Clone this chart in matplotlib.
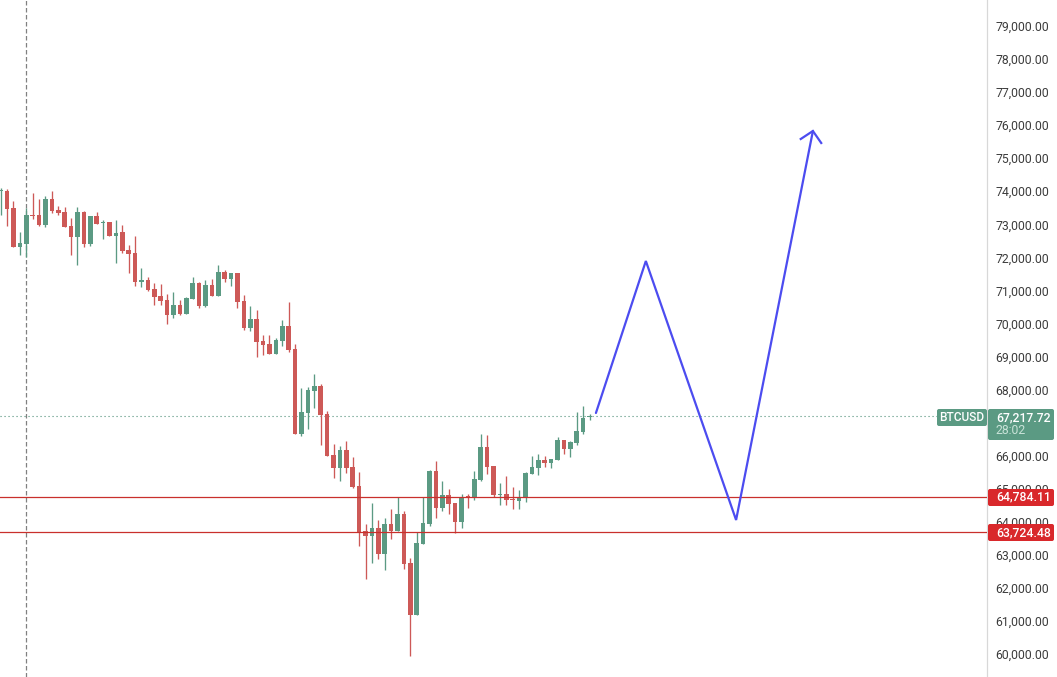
import matplotlib
matplotlib.use("Agg")
import matplotlib.pyplot as plt
from matplotlib.patches import FancyBboxPatch
from matplotlib.transforms import IdentityTransform, Affine2D

W, H = 1057, 677

opens = [74037,74037,73523,72343,72434,73311,73311,73009,73795,73462,73402,72978,72646,73402,72434,73281,73069,73099,72676,72797,
72252,72161,71284,71344,71072,70860,70739,70285,70588,70316,70769,71253,70557,71193,70860,71586,71374,71556,70709,69892,
70164,69498,69408,69105,69498,69952,69256,66684,67320,67985,68137,67289,66049,65655,66200,65686,65111,63749,63598,63840,
63053,63961,63749,64264,62780,61207,63356,63961,65565,64445,64838,64596,64021,64778,64748,65293,66291,65716,64838,64869,
64717,64657,64778,65474,65655,65897,65807,65897,66503,66230,66412,66745,67193]
highs = [74128,74098,73735,72797,73523,73977,73795,73886,74037,73584,73553,73220,73553,73432,73281,73402,73160,73099,73160,73009,
72403,72676,71707,71435,71253,71223,70921,70981,70739,70830,71435,71284,71344,71374,71798,71647,71556,71556,70890,70557,
70436,69680,69680,69589,70134,70678,69408,68076,68106,68500,68197,67380,66382,66321,66472,65988,65534,63961,64596,64082,
64142,64415,64778,64354,62932,63719,64778,65595,65867,65262,65020,64596,64869,64869,65565,66684,66654,65716,65202,65413,
65080,64990,65534,66018,66079,66018,65927,66593,66503,66472,67350,67531,67289]
lows = [73311,72978,72343,72101,72040,73190,72978,72948,73372,73311,72948,72101,71798,72343,72373,73039,72585,72676,71859,72161,
71556,71163,71132,71011,70588,70588,70013,70194,70285,70316,70769,70497,70527,70860,70860,71284,71163,70497,69831,69801,
69014,69075,69105,69105,69347,69166,66684,66624,66835,67471,66351,66018,65353,65262,65504,65050,63295,62297,62780,62902,
62569,63507,63749,62599,59966,61207,63356,63900,64142,64354,64264,63689,63840,64445,64687,65262,65474,64778,64536,64536,
64415,64415,64626,65474,65444,65686,65655,65897,66079,65988,66351,66684,67108]
closes = [74068,73493,72343,72464,73311,73281,73009,73795,73432,73372,72948,72646,73402,72434,73281,73039,73099,72676,72766,72222,
72131,71284,71344,71042,70830,70709,70285,70588,70316,70800,71253,70557,71193,70860,71586,71374,71556,70678,69892,70164,
69468,69377,69105,69529,69952,69226,66684,67350,68016,68137,67259,66018,65655,66200,65655,65080,63719,63598,63840,63053,
63961,63749,64264,62750,61207,63386,63991,65565,64445,64838,64566,64021,64778,64748,65323,66291,65686,64838,64869,64687,
64687,64778,65504,65686,65897,65807,65927,66503,66230,66442,66775,67168,67214]

price_ticks = [p for p in range(60000, 80000, 1000) if p != 67000]
last_price = 67217.72
support_levels = [64784.11, 63724.48]
countdown = "28:02"
symbol = "BTCUSD"
marked_bar = 4
proj_bars = [93.0, 100.8, 114.9, 126.9]
proj_prices = [67320, 71919, 64082, 75853]
head_bars = [125.0, 126.9, 128.2]
head_prices = [75611, 75853, 75490]

GREEN = "#5b9a83"
RED = "#cd5957"
LINE_RED = "#c9302c"
BLUE = "#4c4cf0"
FONT = "Roboto"

fig = plt.figure(figsize=(W / 100, H / 100), dpi=100, facecolor="white")
ax = fig.add_axes([0, 0, 987 / W, 1])
ax.set_xlim(-0.105, 154.1)
ax.set_ylim(59331, 79817)

for i, (o, h, l, c) in enumerate(zip(opens, highs, lows, closes)):
    col = GREEN if c >= o else RED
    ax.vlines(i, l, h, color=col, lw=0.95, zorder=3)
    ax.bar(i, max(abs(c - o), 45), bottom=min(o, c), width=0.74, color=col, lw=0, zorder=4)

ax.axvline(marked_bar, color="#808080", lw=0.9, ls=(0, (3.6, 2.0)), zorder=2)
ax.axhline(last_price, color="#4f8f78", lw=0.8, ls=(0, (1, 2.6)), zorder=2)
for lvl in support_levels:
    ax.axhline(lvl, color=LINE_RED, lw=0.9, zorder=5)

ax.plot(proj_bars, proj_prices, color=BLUE, lw=1.6, zorder=6, solid_capstyle="round", solid_joinstyle="miter")
ax.plot(head_bars, head_prices, color=BLUE, lw=1.6, zorder=6, solid_joinstyle="miter")

ax.set_xticks([])
ax.set_yticks(price_ticks)
ax.set_yticklabels([f"{p:,.2f}" for p in price_ticks], fontfamily=FONT, fontsize=8.8, color="#3c3c3c")
ax.yaxis.tick_right()
ax.tick_params(axis="y", length=0, pad=6.2)
for lab in ax.get_yticklabels():
    lab.set_transform(lab.get_transform() + Affine2D().translate(0, 1))
for s in ("top", "left", "bottom"):
    ax.spines[s].set_visible(False)
ax.spines["right"].set_color("#d8d8d8")
ax.spines["right"].set_linewidth(0.9)


def box(x0, y0, x1, y1, col):
    fig.add_artist(FancyBboxPatch((x0 + 1.5, H - y1 + 1.5), x1 - x0 - 3, y1 - y0 - 3,
                                  boxstyle="round,pad=1.5,rounding_size=2", fc=col, ec="none",
                                  transform=IdentityTransform(), zorder=5))


def label(x, y, s, col="white", size=8.8, ha="left", weight="normal"):
    fig.text(x / W, 1 - y / H, s, color=col, fontsize=size, family=FONT, ha=ha, va="center",
             fontweight=weight, zorder=6)


box(937, 409, 987, 426, GREEN)
label(962, 417.5, symbol, size=8.6, ha="center", weight="medium")
box(988, 409, 1054, 440, GREEN)
label(996, 417.5, f"{last_price:,.2f}", weight="medium")
label(996, 431, countdown, col="#c9e3d8")
box(988, 489, 1054, 506, "#d9282b")
label(996, 497, f"{support_levels[0]:,.2f}", weight="medium")
box(988, 524, 1054, 541, "#d9282b")
label(996, 532.5, f"{support_levels[1]:,.2f}", weight="medium")

fig.savefig("out.png", dpi=100, facecolor="white")
